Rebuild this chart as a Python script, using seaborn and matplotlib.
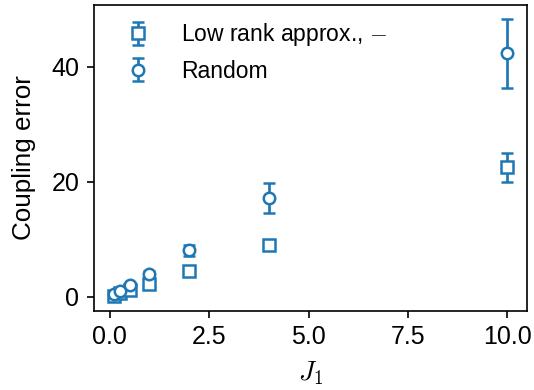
import matplotlib
matplotlib.use("Agg")
import matplotlib.pyplot as plt
import seaborn as sns

# data
J1 = [0.1, 0.25, 0.5, 1.0, 2.0, 4.0, 10.0]

lowrank_err = [0.2, 0.6, 1.2, 2.3, 4.5, 9.0, 22.5]
lowrank_sd = [0.2, 0.3, 0.4, 0.6, 0.8, 0.8, 2.5]

random_err = [0.5, 1.0, 2.0, 3.9, 8.1, 17.2, 42.3]
random_sd = [0.3, 0.4, 0.5, 0.6, 1.0, 2.6, 6.0]

sns.set_style("ticks")
plt.rcParams['font.family'] = ['Liberation Sans', 'DejaVu Sans']
plt.rcParams['mathtext.fontset'] = 'cm'
plt.rcParams['text.color'] = 'black'
plt.rcParams['axes.labelcolor'] = 'black'
plt.rcParams['xtick.color'] = 'black'
plt.rcParams['ytick.color'] = 'black'

fig = plt.figure(figsize=(3.56, 2.6), dpi=150)
ax = fig.add_axes([0.176, 0.203, 0.811, 0.784])

c = sns.color_palette()[0]

ax.errorbar(J1, lowrank_err, yerr=lowrank_sd, fmt='s', color=c, mfc='white',
            mec=c, ms=5.5, mew=1.2, capsize=3, elinewidth=1.3, capthick=1.3,
            label='Low rank approx., $-$')
ax.errorbar(J1, random_err, yerr=random_sd, fmt='o', color=c, mfc='white',
            mec=c, ms=5.5, mew=1.2, capsize=3, elinewidth=1.3, capthick=1.3,
            label='Random')

ax.set_xlabel('$J_1$', fontsize=13, labelpad=5)
ax.set_ylabel('Coupling error', fontsize=12.5, labelpad=7.5)
ax.tick_params(labelsize=12, length=3.5, width=0.8)
for s in ax.spines.values():
    s.set_color('black')
    s.set_linewidth(0.8)
ax.set_xticks([0, 2.5, 5, 7.5, 10])
ax.set_yticks([0, 20, 40])
ax.legend(loc='upper left', frameon=False, fontsize=11, handlelength=2.4,
          handletextpad=0.7, labelspacing=0.5, borderaxespad=0.3)

fig.savefig('out.png', dpi=150)
